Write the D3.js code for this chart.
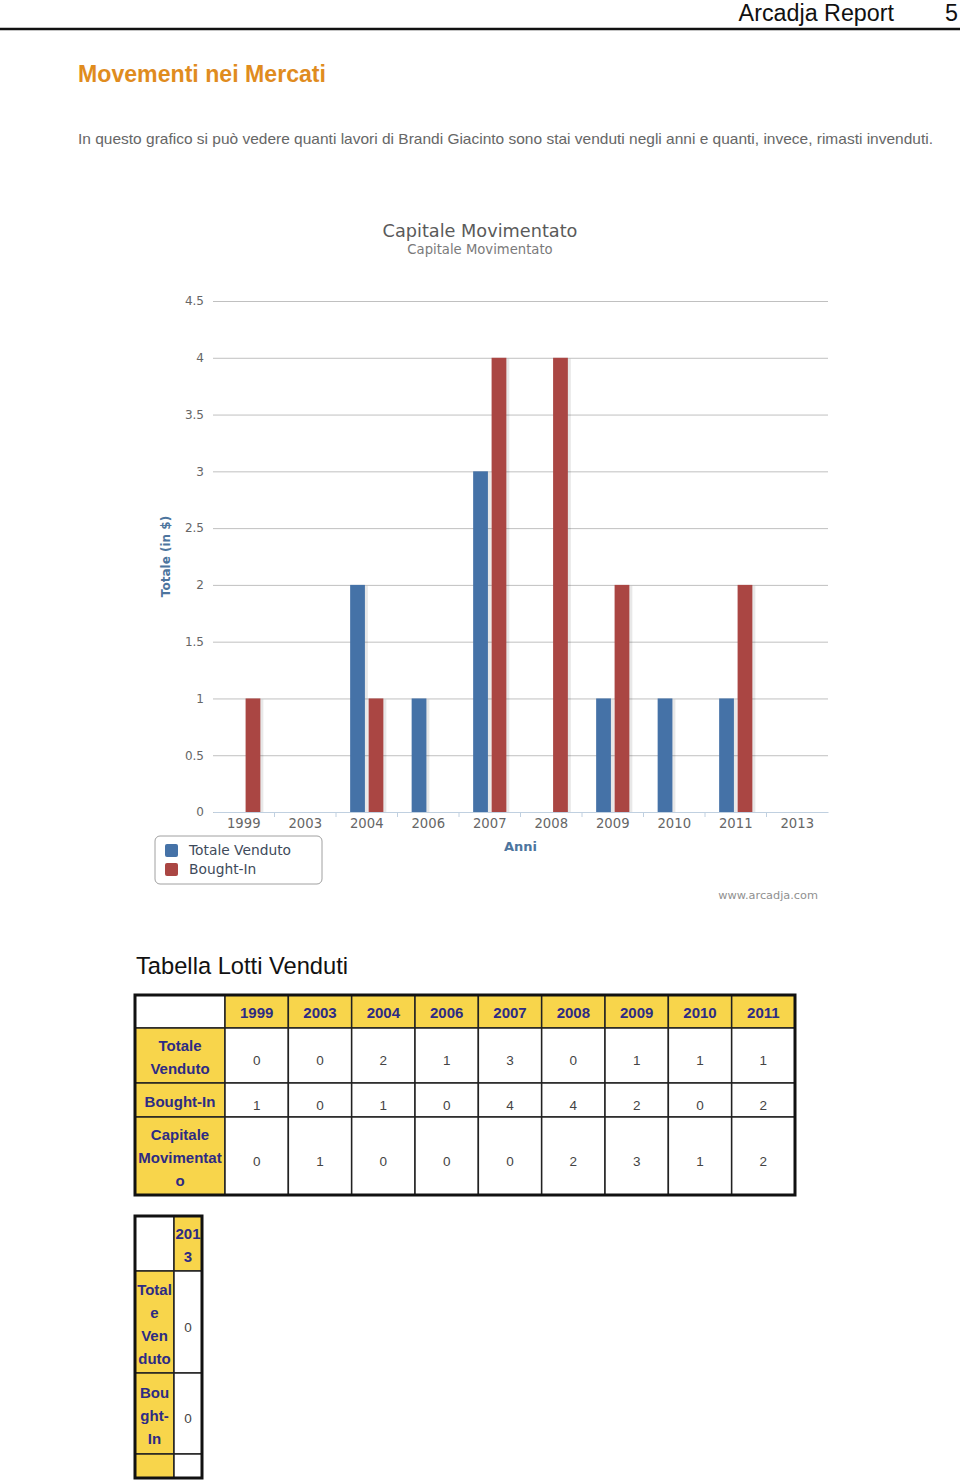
<!DOCTYPE html>
<html>
<head>
<meta charset="utf-8">
<title>Arcadja Report - Movementi nei Mercati</title>
<style>
  body { margin: 0; background: #fff; }
  svg { display: block; }
</style>
</head>
<body>
<div id="page"></div>
<script src="https://d3js.org/d3.v7.min.js"></script>
<script>
// ---- data ----
const years = ["1999", "2003", "2004", "2006", "2007", "2008", "2009", "2010", "2011", "2013"];
const totaleVenduto = [0, 0, 2, 1, 3, 0, 1, 1, 1, 0];
const boughtIn = [1, 0, 1, 0, 4, 4, 2, 0, 2, 0];
const capitaleMovimentato = [0, 1, 0, 0, 0, 2, 3, 1, 2];
const yTicks = [0, 0.5, 1, 1.5, 2, 2.5, 3, 3.5, 4, 4.5];
const seriesNames = ["Totale Venduto", "Bought-In"];

// table split like in the report: first nine years, then 2013 alone
const tableYears1 = years.slice(0, 9);
const tableYears2 = years.slice(9);

const BLUE = "#4572A7";
const RED = "#AA4643";
const YELLOW = "#F8D54B";
const NAVY = "#2D2B84";
const CHART_FONT = "DejaVu Sans, Verdana, sans-serif";
const PAGE_FONT = "Liberation Sans, Arial, sans-serif";

const svg = d3.select("#page").append("svg")
  .attr("width", 960)
  .attr("height", 1481);

// ---- page header ----
svg.append("text").text("Arcadja Report")
  .attr("x", 894).attr("y", 21)
  .attr("text-anchor", "end")
  .style("font-family", PAGE_FONT).style("font-size", "23.3px").style("fill", "#111");
svg.append("text").text("5")
  .attr("x", 958).attr("y", 21)
  .attr("text-anchor", "end")
  .style("font-family", PAGE_FONT).style("font-size", "23.3px").style("fill", "#111");
svg.append("line")
  .attr("x1", 0).attr("x2", 960).attr("y1", 29).attr("y2", 29)
  .attr("stroke", "#111").attr("stroke-width", 2.5);

svg.append("text").text("Movementi nei Mercati")
  .attr("x", 78).attr("y", 82)
  .attr("textLength", 248).attr("lengthAdjust", "spacingAndGlyphs")
  .style("font-family", PAGE_FONT).style("font-size", "23px").style("font-weight", "bold")
  .style("fill", "#E08C1E");

svg.append("text")
  .text("In questo grafico si può vedere quanti lavori di Brandi Giacinto sono stai venduti negli anni e quanti, invece, rimasti invenduti.")
  .attr("x", 78).attr("y", 144)
  .attr("textLength", 855).attr("lengthAdjust", "spacingAndGlyphs")
  .style("font-family", PAGE_FONT).style("font-size", "15px").style("fill", "#666");

// ---- chart ----
const plot = { left: 213, right: 828, top: 301, bottom: 812 };

const x0 = d3.scaleBand().domain(years).range([plot.left, plot.right]);
const x1 = d3.scaleBand().domain(seriesNames)
  .range([x0.bandwidth() * 0.2, x0.bandwidth() * 0.8])
  .paddingInner(0.2).paddingOuter(0.1);
const y = d3.scaleLinear().domain([0, 4.5]).range([plot.bottom, plot.top]);
const color = d3.scaleOrdinal().domain(seriesNames).range([BLUE, RED]);

const chart = svg.append("g");

chart.append("text").text("Capitale Movimentato")
  .attr("x", 480).attr("y", 237)
  .attr("text-anchor", "middle")
  .style("font-family", CHART_FONT).style("font-size", "17.7px").style("fill", "#5a5a5a");
chart.append("text").text("Capitale Movimentato")
  .attr("x", 480).attr("y", 254)
  .attr("text-anchor", "middle")
  .style("font-family", CHART_FONT).style("font-size", "13.2px").style("fill", "#7a7a7a");

// grid + y labels
const yAxis = chart.append("g")
  .attr("transform", "translate(" + plot.left + ",0)")
  .call(d3.axisLeft(y).tickValues(yTicks).tickSize(-(plot.right - plot.left)).tickPadding(9)
    .tickFormat(d3.format("")));
yAxis.select(".domain").remove();
yAxis.selectAll(".tick line").attr("stroke", "#C0C0C0").attr("stroke-width", 1);
yAxis.selectAll(".tick text")
  .style("font-family", CHART_FONT).style("font-size", "12px").style("fill", "#666");

chart.append("text").text("Totale (in $)")
  .attr("transform", "translate(170," + ((plot.top + plot.bottom) / 2) + ") rotate(-90)")
  .attr("text-anchor", "middle")
  .style("font-family", CHART_FONT).style("font-size", "12px").style("font-weight", "bold")
  .style("fill", "#4D759E");

// x axis
const xAxis = chart.append("g")
  .attr("transform", "translate(0," + plot.bottom + ")")
  .call(d3.axisBottom(x0).tickSize(0).tickPadding(7));
xAxis.select(".domain").attr("stroke", "#C0D0E0");
xAxis.selectAll(".tick text")
  .style("font-family", CHART_FONT).style("font-size", "13.2px").style("fill", "#666");
xAxis.selectAll(".sep")
  .data(years.slice(1))
  .enter().append("line")
  .attr("class", "sep")
  .attr("x1", d => x0(d)).attr("x2", d => x0(d))
  .attr("y1", 0).attr("y2", 5)
  .attr("stroke", "#C0D0E0");

chart.append("text").text("Anni")
  .attr("x", (plot.left + plot.right) / 2).attr("y", 851)
  .attr("text-anchor", "middle")
  .style("font-family", CHART_FONT).style("font-size", "13px").style("font-weight", "bold")
  .style("fill", "#4D759E");

// bars
const barData = [];
years.forEach(function (yr, i) {
  barData.push({ year: yr, series: seriesNames[0], value: totaleVenduto[i] });
  barData.push({ year: yr, series: seriesNames[1], value: boughtIn[i] });
});
const bars = chart.append("g").selectAll("g")
  .data(barData.filter(d => d.value > 0))
  .enter().append("g")
  .attr("transform", d => "translate(" + (x0(d.year) + x1(d.series)) + ",0)");
bars.append("rect") // soft shadow on the right
  .attr("x", 1).attr("y", d => y(d.value) + 1)
  .attr("width", x1.bandwidth() + 2)
  .attr("height", d => plot.bottom - y(d.value) - 1)
  .attr("fill", "#000").attr("opacity", 0.09);
bars.append("rect")
  .attr("x", 0).attr("y", d => y(d.value))
  .attr("width", x1.bandwidth())
  .attr("height", d => plot.bottom - y(d.value))
  .attr("fill", d => color(d.series));

// legend
const legend = chart.append("g").attr("transform", "translate(155,836)");
legend.append("rect")
  .attr("width", 167).attr("height", 48).attr("rx", 5)
  .attr("fill", "#fff").attr("stroke", "#A0A0A0");
const li = legend.selectAll(".item").data(seriesNames).enter().append("g")
  .attr("class", "item")
  .attr("transform", (d, i) => "translate(10," + (8 + i * 19) + ")");
li.append("rect").attr("width", 13).attr("height", 13).attr("rx", 2)
  .attr("fill", d => color(d));
li.append("text").text(d => d)
  .attr("x", 24).attr("y", 11)
  .style("font-family", CHART_FONT).style("font-size", "13.8px").style("fill", "#3E4A5A");

chart.append("text").text("www.arcadja.com")
  .attr("x", 818).attr("y", 899)
  .attr("text-anchor", "end")
  .style("font-family", CHART_FONT).style("font-size", "11.3px").style("fill", "#909090");

// ---- tables ----
svg.append("text").text("Tabella Lotti Venduti")
  .attr("x", 136).attr("y", 974)
  .style("font-family", PAGE_FONT).style("font-size", "23.7px").style("fill", "#111");

function drawTable(g, cols, labelW, colW, rowHs, rows) {
  // rows: [{label: [lines], values: [...] }], header row first
  const width = labelW + colW * cols.length;
  let yy = 0;
  const rowTops = [];
  rowHs.forEach(function (h) { rowTops.push(yy); yy += h; });
  const colX = d3.scaleBand().domain(cols).range([labelW, width]);

  // header row
  g.append("rect").attr("x", 0).attr("y", 0).attr("width", labelW).attr("height", rowHs[0])
    .attr("fill", "#fff").attr("stroke", "#222").attr("stroke-width", 1.5);
  const hdr = g.selectAll(".hdr").data(cols).enter().append("g").attr("class", "hdr");
  hdr.append("rect")
    .attr("x", d => colX(d)).attr("y", 0)
    .attr("width", colX.bandwidth()).attr("height", rowHs[0])
    .attr("fill", YELLOW).attr("stroke", "#222").attr("stroke-width", 1.5);
  hdr.each(function (d) {
    const lines = colX.bandwidth() < 40 ? [d.slice(0, 3), d.slice(3)] : [d];
    const t = d3.select(this);
    lines.forEach(function (ln, k) {
      t.append("text").text(ln)
        .attr("x", colX(d) + colX.bandwidth() / 2)
        .attr("y", rowHs[0] / 2 + 6.5 + (k - (lines.length - 1) / 2) * 23)
        .attr("text-anchor", "middle")
        .style("font-family", PAGE_FONT).style("font-size", "15px").style("font-weight", "bold")
        .style("fill", NAVY);
    });
  });

  rows.forEach(function (r, i) {
    const top = rowTops[i + 1], h = rowHs[i + 1];
    g.append("rect").attr("x", 0).attr("y", top).attr("width", labelW).attr("height", h)
      .attr("fill", YELLOW).attr("stroke", "#222").attr("stroke-width", 1.5);
    r.label.forEach(function (ln, k) {
      g.append("text").text(ln)
        .attr("x", labelW / 2)
        .attr("y", top + h / 2 + 7 + (k - (r.label.length - 1) / 2) * 23)
        .attr("text-anchor", "middle")
        .style("font-family", PAGE_FONT).style("font-size", "15px").style("font-weight", "bold")
        .style("fill", NAVY);
    });
    cols.forEach(function (c, j) {
      g.append("rect").attr("x", colX(c)).attr("y", top)
        .attr("width", colX.bandwidth()).attr("height", h)
        .attr("fill", "#fff").attr("stroke", "#222").attr("stroke-width", 1.5);
      if (r.values[j] !== undefined) {
        g.append("text").text(r.values[j])
          .attr("x", colX(c) + colX.bandwidth() / 2)
          .attr("y", top + h / 2 + 9.5)
          .attr("text-anchor", "middle")
          .style("font-family", PAGE_FONT).style("font-size", "13.5px").style("fill", "#444");
      }
    });
  });

  g.append("rect").attr("width", width).attr("height", yy)
    .attr("fill", "none").attr("stroke", "#111").attr("stroke-width", 3);
}

drawTable(svg.append("g").attr("transform", "translate(135,995)"),
  tableYears1, 90, (795 - 225) / 9, [33, 55, 34, 78], [
    { label: ["Totale", "Venduto"], values: totaleVenduto.slice(0, 9) },
    { label: ["Bought-In"], values: boughtIn.slice(0, 9) },
    { label: ["Capitale", "Movimentat", "o"], values: capitaleMovimentato }
  ]);

drawTable(svg.append("g").attr("transform", "translate(135,1216)"),
  tableYears2, 39, 28, [55, 102, 81, 24], [
    { label: ["Total", "e", "Ven", "duto"], values: totaleVenduto.slice(9) },
    { label: ["Bou", "ght-", "In"], values: boughtIn.slice(9) },
    { label: [], values: [] }
  ]);
</script>
</body>
</html>
